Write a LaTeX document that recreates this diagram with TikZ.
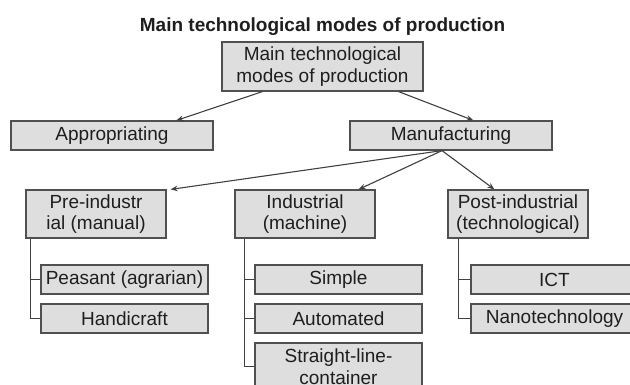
\documentclass[tikz,border=0pt]{standalone}
\usepackage{fontspec}
\setmainfont{Liberation Sans}
\usetikzlibrary{arrows.meta}
\definecolor{boxfill}{HTML}{DEDEDE}
\definecolor{boxline}{HTML}{505050}
\definecolor{txt}{HTML}{1E1E1E}
\begin{document}
\begin{tikzpicture}[x=1pt,y=-1pt,
  box/.style={draw=boxline, fill=boxfill, line width=1.2pt, inner sep=0pt,
    align=center, text=txt, font=\fontsize{19}{21.5}\selectfont},
  arr/.style={draw=txt!85, line width=1.1pt, -{Stealth[length=7pt,width=5.5pt]}},
  tree/.style={draw=txt!85, line width=1.1pt}]
\useasboundingbox (0,0) rectangle (630,384);
\node[font=\bfseries\fontsize{19}{22}\selectfont, text=txt, anchor=base, inner sep=0pt] (title) at (322.5,31) {Main technological modes of production};
\node[box, minimum width=201pt, minimum height=49pt] (top) at (322.5,66.5) {Main technological\\modes of production};
\node[box, minimum width=202pt, minimum height=29pt] (appr) at (112,135.5) {Appropriating};
\node[box, minimum width=202pt, minimum height=29pt] (manu) at (451,135.5) {Manufacturing};
\node[box, minimum width=140pt, minimum height=48pt] (pre) at (96,214) {Pre-industr\\ial (manual)};
\node[box, minimum width=140pt, minimum height=48pt] (ind) at (305,214) {Industrial\\(machine)};
\node[box, minimum width=140pt, minimum height=48pt] (post) at (518,214) {Post-industrial\\(technological)};
\node[box, minimum width=167pt, minimum height=29pt] (peas) at (124.5,279.5) {Peasant (agrarian)};
\node[box, minimum width=167pt, minimum height=29pt] (hand) at (124.5,318.5) {Handicraft};
\node[box, minimum width=167pt, minimum height=29pt] (simp) at (338.5,279.5) {Simple};
\node[box, minimum width=167pt, minimum height=29pt] (auto) at (338.5,318.5) {Automated};
\node[box, minimum width=167pt, minimum height=47pt] (strl) at (338.5,366.5) {Straight-line-\\container};
\node[box, minimum width=167pt, minimum height=29pt] (ict) at (554.5,279.5) {ICT};
\node[box, minimum width=167pt, minimum height=29pt] (nano) at (554.5,318.5) {Nanotechnology};
\draw[arr] ([xshift=41pt]top.south west) -- ([xshift=166pt]appr.north west);
\draw[arr] ([xshift=-25pt]top.south east) -- ([xshift=124pt]manu.north west);
\draw[arr] ([xshift=-9pt]manu.south) -- ([xshift=4pt]pre.north east);
\draw[arr] ([xshift=-9pt]manu.south) -- ([xshift=-17pt]ind.north east);
\draw[arr] ([xshift=-9pt]manu.south) -- ([xshift=47pt]post.north west);
\draw[tree] ([xshift=5pt]pre.south west) |- (peas.west);
\draw[tree] ([xshift=5pt]pre.south west) |- (hand.west);
\draw[tree] ([xshift=10pt]ind.south west) |- (simp.west);
\draw[tree] ([xshift=10pt]ind.south west) |- (auto.west);
\draw[tree] ([xshift=10pt]ind.south west) |- (strl.west);
\draw[tree] ([xshift=11pt]post.south west) |- (ict.west);
\draw[tree] ([xshift=11pt]post.south west) |- (nano.west);
\end{tikzpicture}
\end{document}
